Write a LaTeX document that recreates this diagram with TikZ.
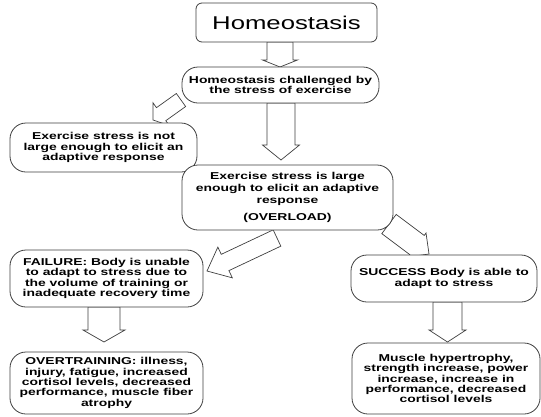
\documentclass[tikz,border=0pt]{standalone}
\usepackage{fontspec}
\setmainfont{Liberation Sans}[FakeStretch=1.39]
\usepackage{tikz}
\usetikzlibrary{calc}
\usetikzlibrary{backgrounds}

% block arrow: tail, tip, half shaft, half head, head length
\newcommand{\fatarrow}[5]{%
  \coordinate (neck) at ($(#2)!#5!(#1)$);
  \draw[fat arrow] ($(#1)!#3!90:(#2)$) -- ($(neck)!#3!90:(#2)$) -- ($(neck)!#4!90:(#2)$)
    -- (#2) -- ($(neck)!#4!-90:(#2)$) -- ($(neck)!#3!-90:(#2)$) -- ($(#1)!#3!-90:(#2)$) -- cycle;
}

\begin{document}
\begin{tikzpicture}[x=1pt,y=-1pt,
  flow box/.style={draw=black!75,line width=.8pt,fill=white,rounded corners=16pt,
    align=center,inner sep=2pt,font=\fontsize{10}{10.3}\selectfont\bfseries},
  fat arrow/.style={draw=black!75,line width=.7pt,fill=white,line join=miter}]
  \useasboundingbox (0,0) rectangle (541,416);

  \node[flow box,rounded corners=6pt,minimum width=181pt,minimum height=39pt,
    font=\fontsize{18.5}{20}\selectfont] (home) at (286.5,22.5) {Homeostasis};
  \node[flow box,minimum width=197pt,minimum height=36pt] (chal) at (280.5,85)
    {Homeostasis challenged by\\the stress of exercise};
  \node[flow box,minimum width=187pt,minimum height=49pt] (small) at (103.5,147.5)
    {Exercise stress is not\\large enough to elicit an\\adaptive response};
  \node[flow box,minimum width=211pt,minimum height=65pt,
    font=\fontsize{10}{11.8}\selectfont\bfseries] (large) at (287.5,197.5)
    {Exercise stress is large\\enough to elicit an adaptive\\response\\[5pt](OVERLOAD)};
  \node[flow box,minimum width=193pt,minimum height=57pt] (fail) at (106.5,278.5)
    {FAILURE: Body is unable\\to adapt to stress due to\\the volume of training or\\inadequate recovery time};
  \node[flow box,minimum width=186pt,minimum height=47pt] (succ) at (444,278.5)
    {SUCCESS Body is able to\\adapt to stress};
  \node[flow box,minimum width=193pt,minimum height=62pt] (over) at (106.5,383)
    {OVERTRAINING: illness,\\injury, fatigue, increased\\cortisol levels, decreased\\performance, muscle fiber\\atrophy};
  \node[flow box,minimum width=188pt,minimum height=71pt] (musc) at (446,378.5)
    {Muscle hypertrophy,\\strength increase, power\\increase, increase in\\performance, decreased\\cortisol levels};

  \coordinate (a1t) at (280,42);    \coordinate (a1h) at (280,67);
  \coordinate (a2t) at (281,103);   \coordinate (a2h) at (281,160);
  \coordinate (a3t) at (181,100);   \coordinate (a3h) at (153,120);
  \coordinate (a4t) at (277,238);   \coordinate (a4h) at (207,271);
  \coordinate (a5t) at (389,224);   \coordinate (a5h) at (429,254);
  \coordinate (a6t) at (447.5,302); \coordinate (a6h) at (447.5,342);
  \coordinate (a7t) at (104,307);   \coordinate (a7h) at (104,342);

  \begin{pgfonlayer}{background}
    \fill[white] (0,0) rectangle (541,416);
    \fatarrow{a1t}{a1h}{13pt}{17.5pt}{7pt}
    \fatarrow{a2t}{a2h}{14pt}{18.5pt}{15pt}
    \fatarrow{a3t}{a3h}{8pt}{14pt}{10pt}
    \fatarrow{a4t}{a4h}{9pt}{17pt}{20pt}
    \fatarrow{a5t}{a5h}{12pt}{15pt}{15pt}
    \fatarrow{a6t}{a6h}{14.5pt}{18.5pt}{12pt}
    \fatarrow{a7t}{a7h}{16pt}{21pt}{12pt}
  \end{pgfonlayer}
\end{tikzpicture}
\end{document}
